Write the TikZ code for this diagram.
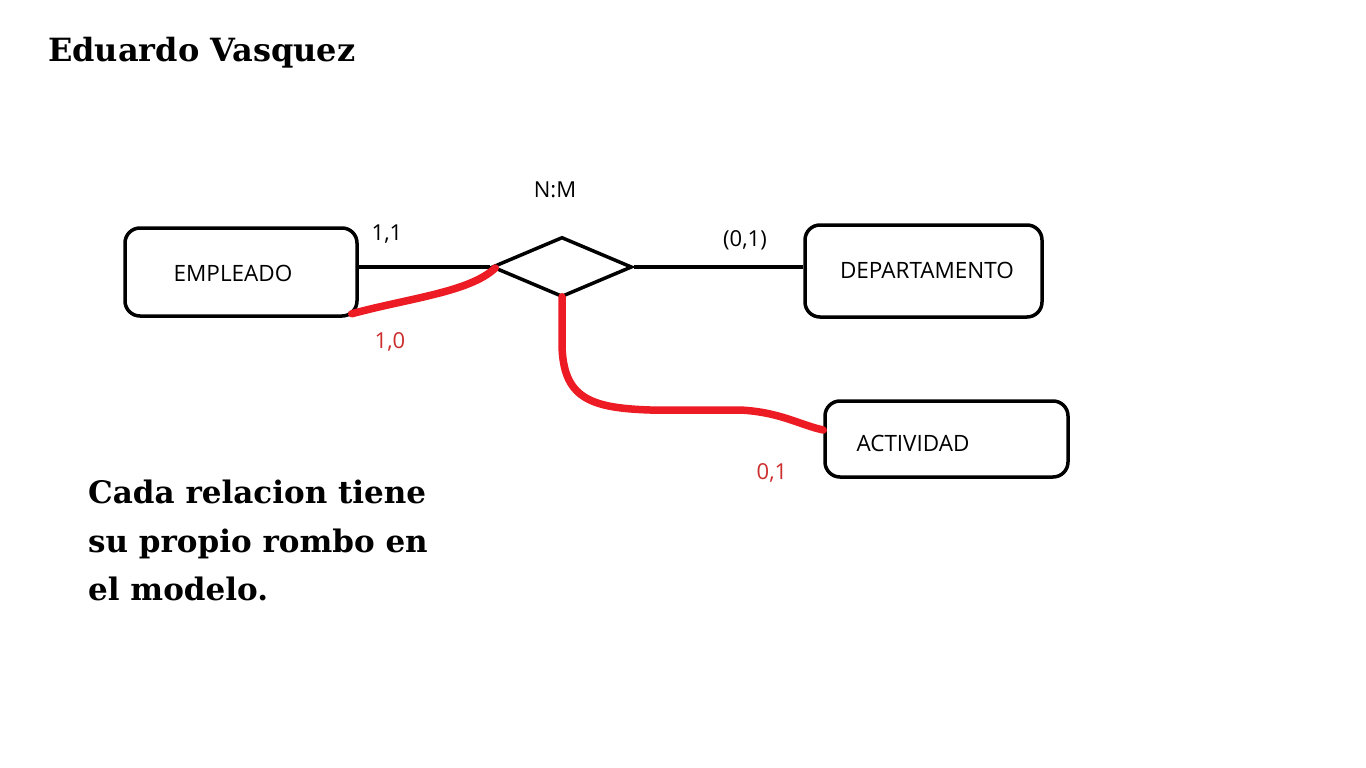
\documentclass[tikz,border=0pt]{standalone}
\usepackage{fontspec}
\setmainfont{Open Sans}
\newfontfamily\slab{DejaVu Serif}
\usetikzlibrary{shapes.geometric}
\definecolor{paintred}{RGB}{237,28,36}
\definecolor{labred}{RGB}{205,45,45}
\tikzset{
  entity/.style={draw=black, line width=3.5pt, rounded corners=15pt, inner sep=0pt},
  etext/.style={font=\fontsize{22.5}{26}\selectfont, inner sep=0pt},
  card/.style={font=\fontsize{22}{26}\selectfont, inner sep=0pt},
  rel/.style={draw=black, line width=3.5pt, diamond, inner sep=0pt, minimum width=140pt, minimum height=60pt},
  conn/.style={draw=black, line width=4pt},
  redconn/.style={draw=paintred, line width=7.5pt, line cap=round, line join=round},
}
\begin{document}
\begin{tikzpicture}[x=1pt,y=-1pt]
\useasboundingbox (0,0) rectangle (1366,768);
\fill[white] (0,0) rectangle (1366,768);
% title
\node[anchor=base west, inner sep=0pt, font=\slab\bfseries\fontsize{32}{36}\selectfont] (title) at (48,62) {Eduardo Vasquez};
% entities
\node[entity, minimum width=232pt, minimum height=88pt] (emp) at (241,272) {};
\node[etext] (empt) at (233,273) {EMPLEADO};
\node[entity, minimum width=237pt, minimum height=92pt] (dep) at (923.5,271) {};
\node[etext] (dept) at (927,270) {DEPARTAMENTO};
\node[entity, minimum width=243pt, minimum height=76pt] (act) at (946.5,439) {};
\node[etext] (actt) at (913,443) {ACTIVIDAD};
% relationship
\node[rel] (r) at (562,267) {};
\node[card] (nm) at (555,190) {N:M};
% connectors
\draw[conn] (r.west -| emp.east) -- (r.west);
\draw[conn] (r.east) -- (dep.west |- r.east);
\draw[redconn] ([shift={(-7,-4)}]emp.south east) .. controls (410,298) and (470,292) .. ([shift={(5,1)}]r.west);
\draw[redconn] ([yshift=2pt]r.south) -- (562,345) .. controls (563,398) and (590,408) .. (650,410) -- (740,410) .. controls (780,412) and (800,425) .. (act.west |- 0,430);
% cardinalities
\node[card] (c11) at (387,234) {1,1};
\node[card] (c01) at (745,240) {(0,1)};
\node[card, text=labred] (c10) at (390,342) {1,0};
\node[card, text=labred] (c01b) at (772,473) {0,1};
% note
\node[anchor=north west, inner sep=0pt, align=left, font=\slab\bfseries\fontsize{31}{48.5}\selectfont] (note) at (88,480) {Cada relacion tiene\\su propio rombo en\\el modelo.};
\end{tikzpicture}
\end{document}
